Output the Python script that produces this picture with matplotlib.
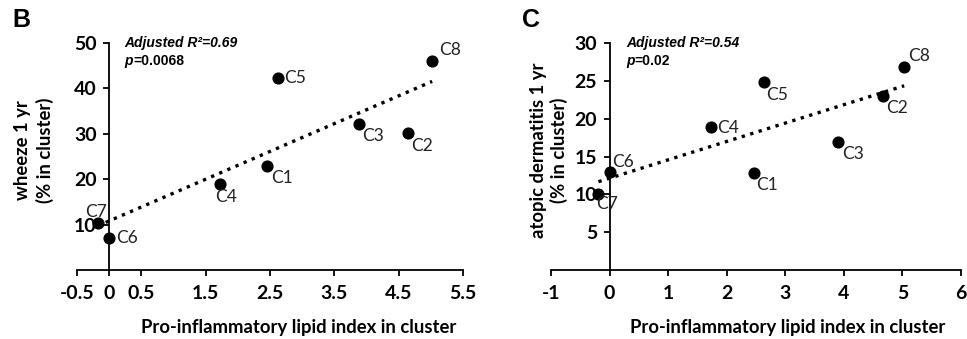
import matplotlib.pyplot as plt
import numpy as np
from matplotlib.transforms import offset_copy

#DATA
clusters = ['C1', 'C2', 'C3', 'C4', 'C5', 'C6', 'C7', 'C8']
lipid_b = [2.45, 4.65, 3.89, 1.73, 2.63, 0.0, -0.18, 5.02]
wheeze = [23.0, 30.2, 32.2, 19.0, 42.3, 7.0, 10.4, 46.0]
lipid_c = [2.46, 4.67, 3.90, 1.74, 2.63, 0.0, -0.19, 5.03]
atopic = [12.8, 23.0, 16.9, 18.9, 24.8, 13.0, 10.0, 26.8]

xticks_b = [-0.5, 0, 0.5, 1.5, 2.5, 3.5, 4.5, 5.5]
xticklabels_b = ['-0.5', '0', '0.5', '1.5', '2.5', '3.5', '4.5', '5.5']
yticks_b = [10, 20, 30, 40, 50]
xticks_c = [-1, 0, 1, 2, 3, 4, 5, 6]
yticks_c = [5, 10, 15, 20, 25, 30]

#label offsets in points (dx, dy, ha, va)
offs_b = {'C1': (3, -3, 'left', 'top'), 'C2': (2, -4, 'left', 'top'),
          'C3': (2, -3, 'left', 'top'), 'C4': (-4, -4, 'left', 'top'),
          'C5': (4, 0, 'left', 'center'), 'C6': (5, 0, 'left', 'center'),
          'C7': (-9, 2, 'left', 'bottom'), 'C8': (5, 2, 'left', 'bottom')}
offs_c = {'C1': (2, -3, 'left', 'top'), 'C2': (2, -3, 'left', 'top'),
          'C3': (3, -3, 'left', 'top'), 'C4': (4, -1, 'left', 'center'),
          'C5': (2, -3, 'left', 'top'), 'C6': (2, 1, 'left', 'bottom'),
          'C7': (-2, -1, 'left', 'top'), 'C8': (3, 2, 'left', 'bottom')}

W, H = 967, 339
fig = plt.figure(figsize=(W/100, H/100), dpi=100)
axb = fig.add_axes([77/W, 1-270/H, 386/W, 227/H])
axc = fig.add_axes([551/W, 1-270/H, 410/W, 227/H])

tickfont = dict(family='Lato', weight='bold', size=14)

def panel(ax, x, y, offs, xlim, ylim, xt, xtl, yt, r2, p):
    ax.scatter(x, y, s=60, color='black', zorder=3)
    a, b = np.polyfit(x, y, 1)
    lx = np.array([min(x), max(x)])
    ax.plot(lx, a*lx+b, color='black', linestyle=':', linewidth=2.4)
    for name, xi, yi in zip(clusters, x, y):
        dx, dy, ha, va = offs[name]
        ax.annotate(name, (xi, yi), xytext=(dx, dy), textcoords='offset points',
                    ha=ha, va=va, family='Lato', fontsize=12.5, color='#222222')
    ax.set_xlim(xlim)
    ax.set_ylim(ylim)
    ax.spines['left'].set_position(('data', 0))
    ax.spines['top'].set_visible(False)
    ax.spines['right'].set_visible(False)
    for s in ['left', 'bottom']:
        ax.spines[s].set_linewidth(1.3)
    ax.set_xticks(xt)
    ax.set_xticklabels(xtl, fontdict=tickfont)
    ax.set_yticks(yt)
    ax.set_yticklabels([str(v) for v in yt], fontdict=tickfont)
    ax.tick_params(direction='out', length=4, width=1.3, pad=5)
    ax.tick_params(axis='x', pad=7)
    ax.patch.set_visible(False)
    tx = ax.transData
    x0 = 0.04*(xlim[1]-xlim[0])
    ax.text(x0, ylim[1]+0.002*ylim[1], 'Adjusted R²=' + r2,
            family='Liberation Sans', weight='bold', style='italic', fontsize=10,
            ha='left', va='center', transform=tx)
    y2 = ylim[1] - 0.078*ylim[1]
    ax.text(x0, y2, 'p', family='Liberation Sans', weight='bold',
            style='italic', fontsize=10, ha='left', va='center', transform=tx)
    ax.text(x0, y2, '=' + p, family='Liberation Sans', weight='bold',
            fontsize=10, ha='left', va='center',
            transform=offset_copy(tx, fig=fig, x=6, y=0, units='points'))

panel(axb, lipid_b, wheeze, offs_b, (-0.5, 5.5), (0, 50), xticks_b, xticklabels_b,
      yticks_b, '0.69', '0.0068')
panel(axc, lipid_c, atopic, offs_c, (-1, 6), (0, 30), xticks_c,
      [str(v) for v in xticks_c], yticks_c, '0.54', '0.02')

labfont = dict(family='Lato', weight='bold', fontsize=13.3)
fig.text(34/W, 1-150/H, 'wheeze 1 yr\n(% in cluster)', rotation=90, ha='center',
         va='center', multialignment='center', linespacing=1.35, **labfont)
fig.text(549/W, 1-150/H, 'atopic dermatitis 1 yr\n(% in cluster)', rotation=90,
         ha='center', va='center', multialignment='center', linespacing=1.18, **labfont)
fig.text(299/W, 1-328/H, 'Pro-inflammatory lipid index in cluster', ha='center',
         va='center', **labfont)
fig.text(788/W, 1-327/H, 'Pro-inflammatory lipid index in cluster', ha='center',
         va='center', **labfont)

fig.text(21/W, 1-20/H, 'B', family='Liberation Sans', weight='bold', fontsize=18,
         ha='center', va='center')
fig.text(531/W, 1-20/H, 'C', family='Liberation Sans', weight='bold', fontsize=18,
         ha='center', va='center')

fig.savefig('out.png', dpi=100)
